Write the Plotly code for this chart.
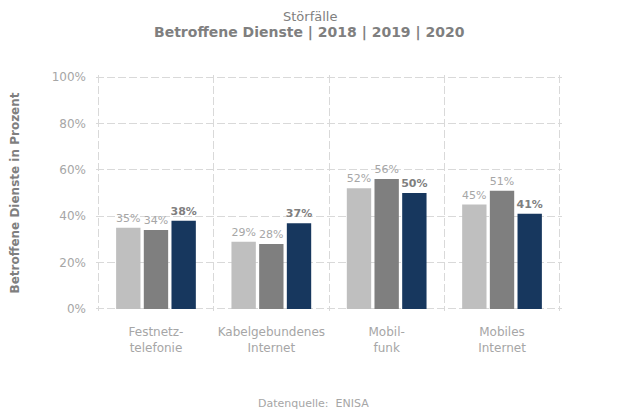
import plotly.graph_objects as go

# Störfälle - betroffene Dienste (ENISA)
kategorien = ['Festnetz-<br>telefonie', 'Kabelgebundenes<br>Internet', 'Mobil-<br>funk', 'Mobiles<br>Internet']
jahre = ['2018', '2019', '2020']
werte_2018 = [35, 29, 52, 45]
werte_2019 = [34, 28, 56, 51]
werte_2020 = [38, 37, 50, 41]
ytick_werte = [0, 20, 40, 60, 80, 100]

farben = ['#bfbfbf', '#7f7f7f', '#17375e']
pos = list(range(len(kategorien)))
grenzen = [p - 0.5 for p in pos] + [pos[-1] + 0.5]
strich = '8px,3px'

fig = go.Figure()
for jahr, werte, farbe in zip(jahre, [werte_2018, werte_2019, werte_2020], farben):
    fett = jahr == '2020'
    fig.add_trace(go.Bar(
        x=pos, y=werte, name=jahr, marker=dict(color=farbe, line=dict(width=0)),
        text=[f'<b>{v}%</b>' if fett else f'{v}%' for v in werte],
        texttemplate='%{text}', textposition='outside', cliponaxis=False,
        constraintext='none',
        textfont=dict(family='DejaVu Sans', size=11, color='#7f7f7f' if fett else '#a6a6a6'),
    ))

# unsichtbare Spur, damit die zweite x-Achse (Trennlinien) gezeichnet wird
fig.add_trace(go.Scatter(x=grenzen, y=[None] * len(grenzen), xaxis='x2', showlegend=False, hoverinfo='skip'))

fig.update_layout(
    width=631, height=420,
    margin=dict(l=88, r=77, t=67, b=117),
    paper_bgcolor='white', plot_bgcolor='white',
    font=dict(family='DejaVu Sans', color='#a6a6a6', size=12),
    barmode='group', bargap=0.28, bargroupgap=0.12,
    showlegend=False,
    xaxis=dict(range=[-0.52, 3.52], tickvals=pos, ticktext=kategorien, showgrid=False,
               zeroline=False, showline=False, ticks='', ticklabelstandoff=12, automargin=False,
               tickfont=dict(size=12, color='#a6a6a6')),
    xaxis2=dict(range=[-0.52, 3.52], overlaying='x', tickvals=grenzen, showticklabels=False,
                showgrid=True, gridcolor='#d9d9d9', griddash=strich, gridwidth=1,
                zeroline=False, showline=False, ticks='', automargin=False),
    yaxis=dict(range=[-0.9, 100.9], tickvals=ytick_werte, ticktext=[f'{v}%' for v in ytick_werte],
               showgrid=True, gridcolor='#d9d9d9', griddash=strich, zeroline=False, showline=False,
               ticks='', ticklabelstandoff=9, automargin=False, tickfont=dict(size=12, color='#a6a6a6'),
               title=dict(text='<b>Betroffene Dienste in Prozent</b>', standoff=32,
                          font=dict(size=12, color='#7f7f7f'))),
)

# Titel und Quelle
fig.add_annotation(text='Störfälle', xref='paper', yref='paper', x=0.459, y=1.25,
                   xanchor='center', yanchor='middle',
                   showarrow=False, font=dict(size=13, color='#7f7f7f'))
fig.add_annotation(text='<b>Betroffene Dienste | 2018 | 2019 | 2020</b>', xref='paper', yref='paper',
                   x=0.459, y=1.182, xanchor='center', yanchor='middle',
                   showarrow=False, font=dict(size=14, color='#7f7f7f'))
fig.add_annotation(text='Datenquelle:  ENISA', xref='paper', yref='paper', x=0.466, y=-0.39,
                   xanchor='center', yanchor='middle',
                   showarrow=False, font=dict(size=11, color='#a6a6a6'))

fig.write_html('out.html')
